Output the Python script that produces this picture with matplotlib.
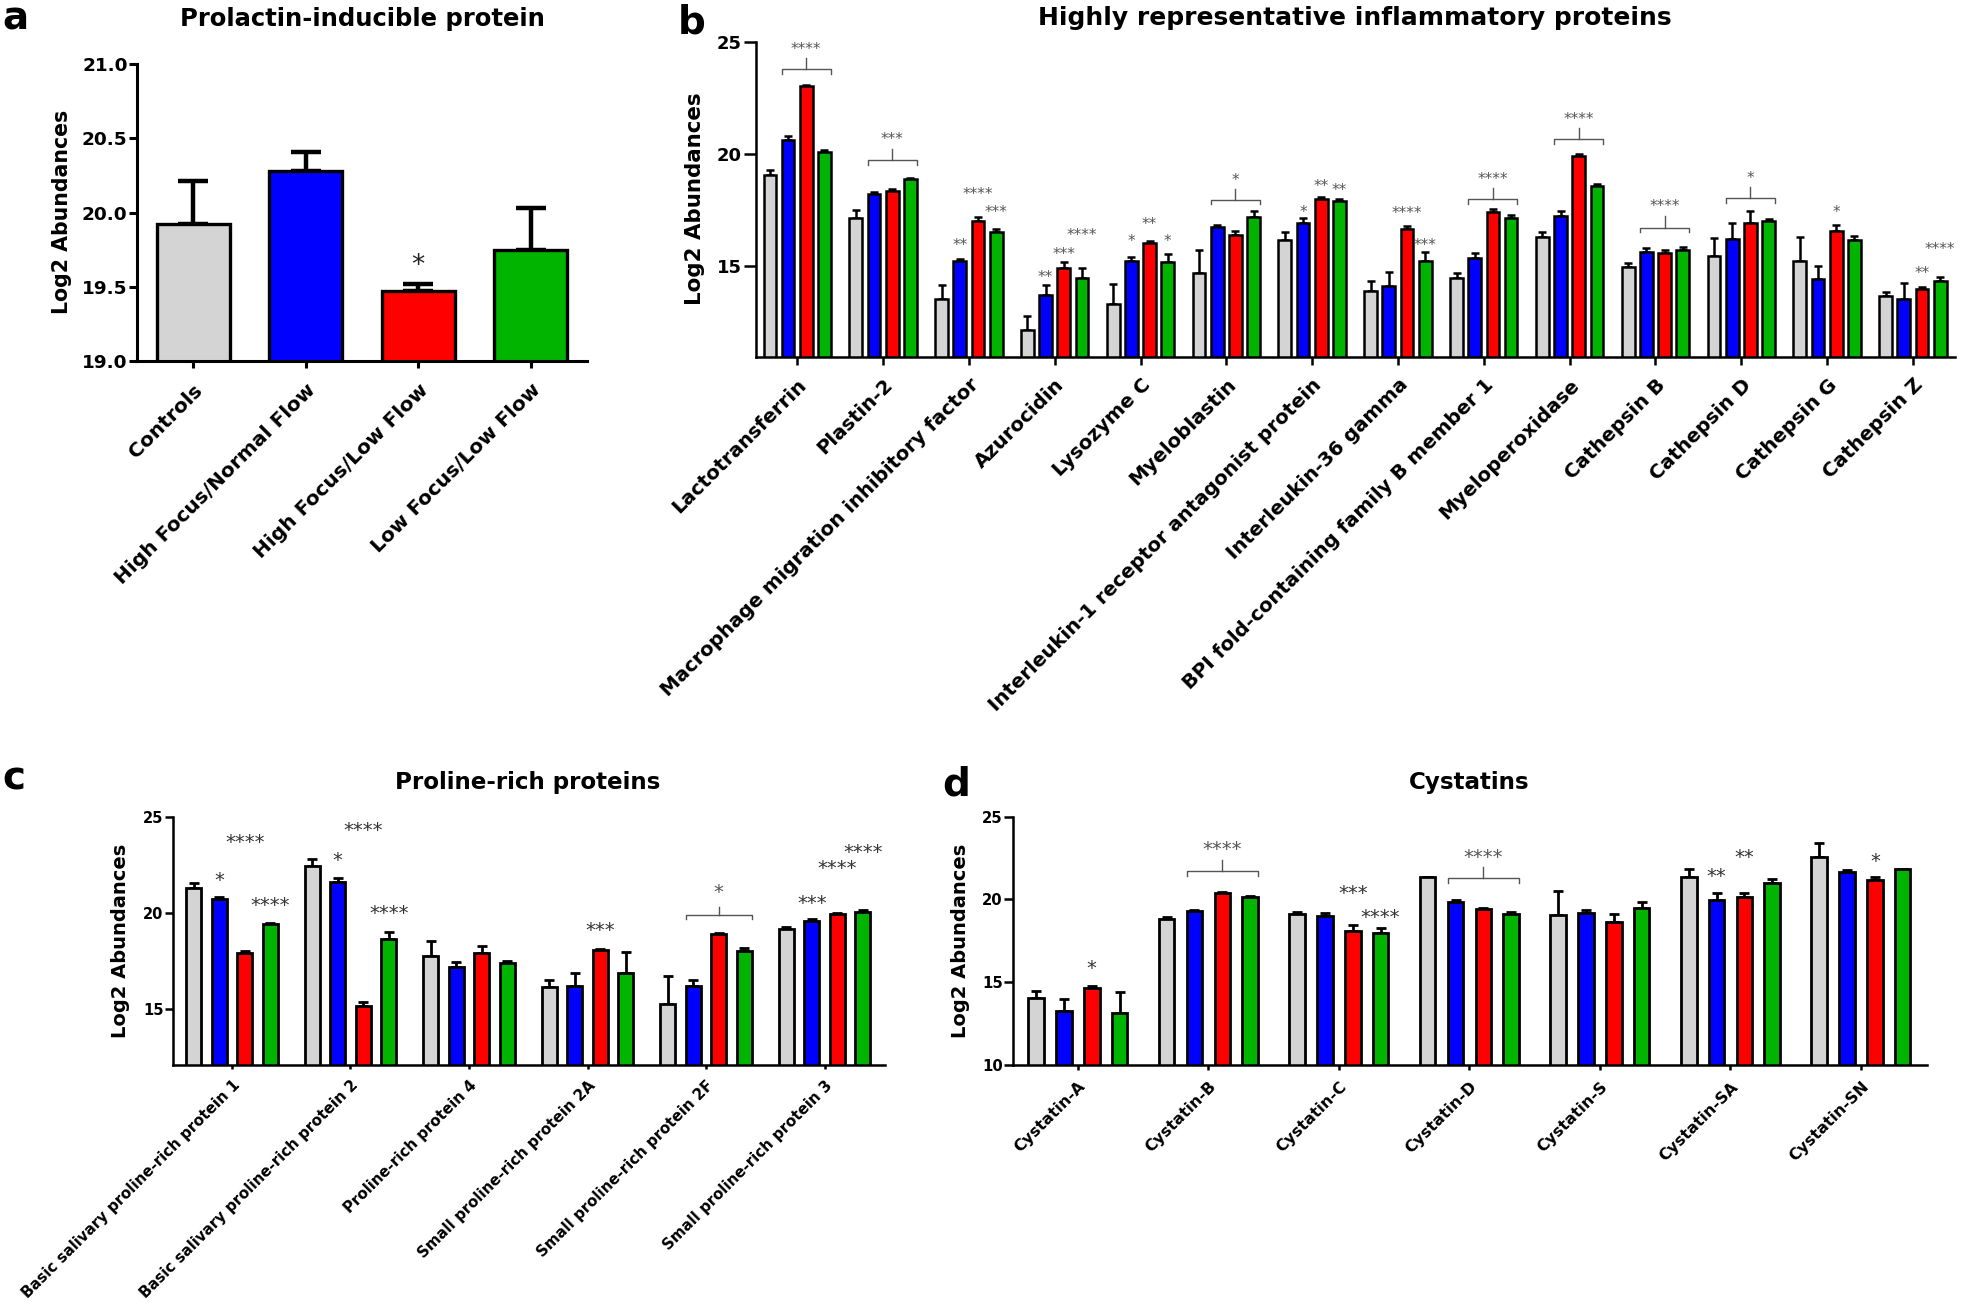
import matplotlib
matplotlib.use('Agg')
import matplotlib.pyplot as plt
import numpy as np
from matplotlib.transforms import offset_copy

plt.rcParams['font.family'] = ['DejaVu Sans']

W, H, DPI = 1961, 1313, 100
COLORS = ['#d4d4d4', '#0000ff', '#ff0000', '#00b400']

# ---------------- Panel a: Prolactin-inducible protein ----------------
a_labels = ["Controls", "High Focus/Normal Flow", "High Focus/Low Flow", "Low Focus/Low Flow"]
a_means = [19.92, 20.28, 19.47, 19.75]
a_tops = [20.21, 20.41, 19.52, 20.03]
a_yticks = [19.0, 19.5, 20.0, 20.5, 21.0]

# ---------------- Panel b: inflammatory proteins ----------------
b_labels = ["Lactotransferrin", "Plastin-2", "Macrophage migration inhibitory factor",
            "Azurocidin", "Lysozyme C", "Myeloblastin",
            "Interleukin-1 receptor antagonist protein", "Interleukin-36 gamma",
            "BPI fold-containing family B member 1", "Myeloperoxidase",
            "Cathepsin B", "Cathepsin D", "Cathepsin G", "Cathepsin Z"]
b_ctrl = [19.05, 17.14, 13.50, 12.10, 13.29, 14.66, 16.16, 13.88, 14.44, 16.29, 14.94, 15.43, 15.22, 13.66]
b_ctrl_top = [19.28, 17.51, 14.11, 12.74, 14.17, 15.69, 16.51, 14.32, 14.69, 16.51, 15.10, 16.24, 16.29, 13.82]
b_hfnf = [20.64, 18.20, 15.20, 13.67, 15.20, 16.71, 16.90, 14.07, 15.33, 17.20, 15.62, 16.21, 14.40, 13.50]
b_hfnf_top = [20.82, 18.28, 15.28, 14.11, 15.38, 16.80, 17.13, 14.70, 15.55, 17.44, 15.77, 16.92, 15.00, 14.22]
b_hflf = [23.04, 18.35, 16.98, 14.91, 16.02, 16.36, 17.98, 16.65, 17.42, 19.93, 15.58, 16.92, 16.55, 13.95]
b_hflf_top = [23.08, 18.43, 17.17, 15.15, 16.10, 16.55, 18.07, 16.76, 17.54, 20.00, 15.69, 17.44, 16.80, 14.05]
b_lflf = [20.08, 18.87, 16.50, 14.44, 15.18, 17.17, 17.89, 15.21, 17.13, 18.57, 15.69, 16.98, 16.14, 14.33]
b_lflf_top = [20.16, 18.94, 16.65, 14.88, 15.50, 17.44, 17.98, 15.59, 17.25, 18.65, 15.84, 17.10, 16.33, 14.48]
b_yticks = [15, 20, 25]
# significance marks: (protein index, bar index, label height, text)
b_marks = [(2, 1, 16.06, '**'), (2, 2, 18.35, '****'), (2, 3, 17.54, '***'),
           (3, 1, 14.65, '**'), (3, 2, 15.70, '***'), (3, 3, 16.55, '****'),
           (4, 1, 16.24, '*'), (4, 2, 17.02, '**'), (4, 3, 16.24, '*'),
           (6, 1, 17.58, '*'), (6, 2, 18.72, '**'), (6, 3, 18.54, '**'),
           (7, 2, 17.50, '****'), (7, 3, 16.06, '***'),
           (12, 2, 17.54, '*'),
           (13, 2, 14.85, '**'), (13, 3, 15.89, '****')]
# brackets: (protein index, bracket height, label height, text)
b_brackets = [(0, 23.80, 24.88, '****'), (1, 19.71, 20.82, '***'), (5, 17.95, 19.00, '*'),
              (8, 17.98, 19.02, '****'), (9, 20.67, 21.72, '****'),
              (10, 16.70, 17.84, '****'), (11, 18.01, 19.09, '*')]

# ---------------- Panel c: Proline-rich proteins ----------------
c_labels = ["Basic salivary proline-rich protein 1", "Basic salivary proline-rich protein 2",
            "Proline-rich protein 4", "Small proline-rich protein 2A",
            "Small proline-rich protein 2F", "Small proline-rich protein 3"]
c_ctrl = [21.31, 22.44, 17.79, 16.18, 15.26, 19.15]
c_ctrl_top = [21.54, 22.80, 18.56, 16.52, 16.73, 19.26]
c_hfnf = [20.71, 21.63, 17.18, 16.20, 16.21, 19.60]
c_hfnf_top = [20.83, 21.80, 17.46, 16.90, 16.52, 19.67]
c_hflf = [17.94, 15.17, 17.91, 18.08, 18.91, 19.93]
c_hflf_top = [18.04, 15.36, 18.30, 18.13, 18.94, 20.00]
c_lflf = [19.41, 18.65, 17.39, 16.87, 18.04, 20.07]
c_lflf_top = [19.50, 19.03, 17.53, 17.99, 18.17, 20.16]
c_yticks = [15, 20, 25]
c_marks = [(0, 1, 21.97, '*'), (0, 2, 23.93, '****'), (0, 3, 20.67, '****'),
           (1, 1, 23.00, '*'), (1, 2, 24.57, '****'), (1, 3, 20.28, '****'),
           (3, 2, 19.38, '***'),
           (5, 1, 20.76, '***'), (5, 2, 22.58, '****'), (5, 3, 23.44, '****')]
c_brackets = [(4, 19.90, 21.37, '*')]

# ---------------- Panel d: Cystatins ----------------
d_labels = ["Cystatin-A", "Cystatin-B", "Cystatin-C", "Cystatin-D", "Cystatin-S", "Cystatin-SA", "Cystatin-SN"]
d_ctrl = [14.07, 18.82, 19.10, 21.34, 19.06, 21.34, 22.54]
d_ctrl_top = [14.47, 18.92, 19.26, 21.36, 20.51, 21.84, 23.39]
d_hfnf = [13.28, 19.32, 19.00, 19.87, 19.16, 19.97, 21.64]
d_hfnf_top = [13.97, 19.38, 19.20, 19.95, 19.36, 20.41, 21.78]
d_hflf = [14.67, 20.41, 18.11, 19.42, 18.66, 20.13, 21.17]
d_hflf_top = [14.79, 20.45, 18.46, 19.50, 19.12, 20.41, 21.34]
d_lflf = [13.12, 20.17, 17.99, 19.10, 19.50, 20.97, 21.82]
d_lflf_top = [14.39, 20.21, 18.26, 19.22, 19.87, 21.24, 21.84]
d_yticks = [10, 15, 20, 25]
d_marks = [(0, 2, 16.14, '*'), (2, 2, 20.71, '***'), (2, 3, 19.26, '****'),
           (5, 1, 21.74, '**'), (5, 2, 22.89, '**'), (6, 2, 22.62, '*')]
d_brackets = [(1, 21.72, 23.35, '****'), (3, 21.28, 22.89, '****')]

fig = plt.figure(figsize=(W / DPI, H / DPI), dpi=DPI)


def px_axes(left, top, right, bottom):
    return fig.add_axes([left / W, 1 - bottom / H, (right - left) / W, (bottom - top) / H])


def ftext(x, y, s, **kw):
    fig.text(x / W, 1 - y / H, s, **kw)


def style_axes(ax, spine_lw, ylen, xlen, tickw, ylab_size, xlab_size, xpad, ypad):
    for s in ['top', 'right']:
        ax.spines[s].set_visible(False)
    for s in ['left', 'bottom']:
        ax.spines[s].set_linewidth(spine_lw)
    ax.tick_params(axis='y', length=ylen, width=tickw, labelsize=ylab_size, pad=ypad)
    ax.tick_params(axis='x', length=xlen, width=tickw, labelsize=xlab_size, pad=xpad)


def draw_bars(ax, means, tops, width, spacing, edge_lw, err_lw, capsize):
    n = len(means[0])
    x = np.arange(n)
    for i in range(4):
        m = np.asarray(means[i])
        t = np.asarray(tops[i])
        xi = x + (i - 1.5) * spacing
        ax.errorbar(xi, m, yerr=[np.zeros(n), t - m], fmt='none', ecolor='black',
                    elinewidth=err_lw, capsize=capsize, capthick=err_lw, zorder=1)
        ax.bar(xi, m, width, color=COLORS[i], edgecolor='black', linewidth=edge_lw, zorder=2)
    return x


def star(ax, x, y, s, size, color):
    tr = offset_copy(ax.transData, fig=fig, y=-0.56 * size, units='points')
    ax.text(x, y, s, transform=tr, ha='center', va='baseline', fontsize=size, color=color,
            clip_on=False)


def add_marks(ax, marks, spacing, size, color):
    for g, b, y, s in marks:
        star(ax, g + (b - 1.5) * spacing, y, s, size, color)


def add_brackets(ax, brackets, spacing, width, drop, stem, size, color, lw):
    for g, y, yt, s in brackets:
        x0 = g + (1 - 1.5) * spacing - width / 2
        x1 = g + (3 - 1.5) * spacing + width / 2
        xm = (x0 + x1) / 2
        ax.plot([x0, x0, x1, x1], [y - drop, y, y, y - drop], color=color, lw=lw,
                solid_joinstyle='round', clip_on=False)
        ax.plot([xm, xm], [y, y + stem], color=color, lw=lw, clip_on=False)
        star(ax, xm, yt, s, size, color)


# ===== Panel a =====
axa = px_axes(137, 64, 587, 361)
xa = np.arange(len(a_labels))
axa.errorbar(xa, a_means, yerr=[np.zeros(4), np.asarray(a_tops) - np.asarray(a_means)], fmt='none',
             ecolor='black', elinewidth=3.2, capsize=11, capthick=3.2, zorder=1)
axa.bar(xa, a_means, 0.65, color=COLORS, edgecolor='black', linewidth=2.4, zorder=2)
axa.set_xlim(-0.5, 3.5)
axa.set_ylim(19.0, 21.0)
axa.set_yticks(a_yticks)
axa.set_yticklabels([f"{v:.1f}" for v in a_yticks], fontweight='bold')
axa.set_xticks(xa)
axa.set_xticklabels(a_labels, rotation=45, ha='right', va='top', rotation_mode='anchor',
                    fontweight='bold')
style_axes(axa, 2.2, 5.8, 5.0, 2.2, 13.3, 14.5, 9, 1)
star(axa, 2, 19.69, '*', 19, '#222222')

# ===== Panel b =====
b_sp, b_w = 0.212, 0.149
axb = px_axes(756, 42.3, 1955, 356.7)
xb = draw_bars(axb, [b_ctrl, b_hfnf, b_hflf, b_lflf], [b_ctrl_top, b_hfnf_top, b_hflf_top, b_lflf_top],
               b_w, b_sp, 1.8, 1.8, 3.2)
axb.set_xlim(-0.48, 13.49)
axb.set_ylim(10.92, 25)
axb.set_yticks(b_yticks)
axb.set_yticklabels([str(v) for v in b_yticks], fontweight='bold')
axb.set_xticks(xb)
axb.set_xticklabels(b_labels, rotation=45, ha='right', va='top', rotation_mode='anchor',
                    fontweight='bold')
style_axes(axb, 1.8, 8.4, 5.8, 1.8, 13, 14.2, 7.5, 2)
add_marks(axb, b_marks, b_sp, 11, '#555555')
add_brackets(axb, b_brackets, b_sp, b_w, 0.21, 0.5, 11, '#555555', 1.0)

# ===== Panel c =====
c_sp, c_w = 0.215, 0.125
axc = px_axes(172.7, 816.7, 885, 1065)
xc = draw_bars(axc, [c_ctrl, c_hfnf, c_hflf, c_lflf], [c_ctrl_top, c_hfnf_top, c_hflf_top, c_lflf_top],
               c_w, c_sp, 2.0, 2.0, 3.5)
axc.set_xlim(-0.5, 5.51)
axc.set_ylim(12.11, 25)
axc.set_yticks(c_yticks)
axc.set_yticklabels([str(v) for v in c_yticks], fontweight='bold')
axc.set_xticks(xc)
axc.set_xticklabels(c_labels, rotation=45, ha='right', va='top', rotation_mode='anchor',
                    fontweight='bold')
style_axes(axc, 1.8, 5.6, 3.2, 1.8, 10.5, 10.8, 6, 1)
add_marks(axc, c_marks, c_sp, 14, '#333333')
add_brackets(axc, c_brackets, c_sp, c_w, 0.23, 0.43, 14, '#555555', 1.0)

# ===== Panel d =====
d_sp, d_w = 0.213, 0.119
axd = px_axes(1012.6, 816.7, 1927, 1065)
xd = draw_bars(axd, [d_ctrl, d_hfnf, d_hflf, d_lflf], [d_ctrl_top, d_hfnf_top, d_hflf_top, d_lflf_top],
               d_w, d_sp, 2.0, 2.0, 3.5)
axd.set_xlim(-0.5, 6.506)
axd.set_ylim(10, 25)
axd.set_yticks(d_yticks)
axd.set_yticklabels([str(v) for v in d_yticks], fontweight='bold')
axd.set_xticks(xd)
axd.set_xticklabels(d_labels, rotation=45, ha='right', va='top', rotation_mode='anchor',
                    fontweight='bold')
style_axes(axd, 1.8, 6.2, 3.6, 1.8, 10.7, 11.4, 6.5, 1)
add_marks(axd, d_marks, d_sp, 14, '#333333')
add_brackets(axd, d_brackets, d_sp, d_w, 0.29, 0.68, 14, '#555555', 1.0)

# ===== Titles, panel letters, axis labels =====
ftext(362, 26, "Prolactin-inducible protein", ha='center', va='baseline', fontsize=17.5, fontweight='bold')
ftext(1355, 25, "Highly representative inflammatory proteins", ha='center', va='baseline', fontsize=18, fontweight='bold')
ftext(528, 789, "Proline-rich proteins", ha='center', va='baseline', fontsize=16.6, fontweight='bold')
ftext(1469, 789, "Cystatins", ha='center', va='baseline', fontsize=16.6, fontweight='bold')

ftext(2, 30, "a", ha='left', va='baseline', fontsize=28, fontweight='bold')
ftext(678, 33, "b", ha='left', va='baseline', fontsize=28, fontweight='bold')
ftext(2, 790, "c", ha='left', va='baseline', fontsize=28, fontweight='bold')
ftext(942, 796, "d", ha='left', va='baseline', fontsize=28, fontweight='bold')

ftext(62, 212, "Log2 Abundances", rotation=90, ha='center', va='center', fontsize=14.8, fontweight='bold')
ftext(695, 199, "Log2 Abundances", rotation=90, ha='center', va='center', fontsize=15.4, fontweight='bold')
ftext(120, 941, "Log2 Abundances", rotation=90, ha='center', va='center', fontsize=14, fontweight='bold')
ftext(960, 941, "Log2 Abundances", rotation=90, ha='center', va='center', fontsize=14, fontweight='bold')

fig.savefig("out.png", dpi=DPI)
